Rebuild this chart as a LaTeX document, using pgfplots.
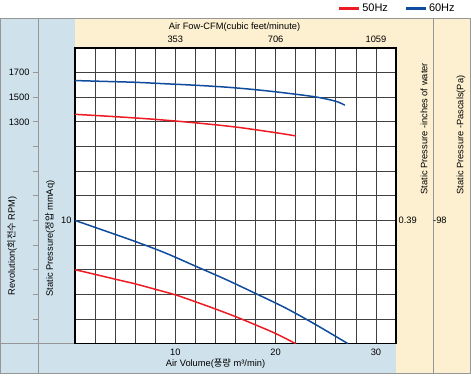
\documentclass[border=0pt]{standalone}
\usepackage{fontspec}
\setmainfont{Liberation Sans}
\newfontfamily\krfont{Noto Sans CJK KR}
\usepackage{pgfplots}
\pgfplotsset{compat=1.18}
\definecolor{bandblue}{RGB}{207,226,236}
\definecolor{bandbeige}{RGB}{253,240,208}
\definecolor{hzred}{RGB}{237,28,36}
\definecolor{hzblue}{RGB}{16,76,158}
\definecolor{rulegray}{RGB}{150,150,150}
\newcommand\lbl{\fontsize{9.3}{11}\selectfont}
\begin{document}
\begin{tikzpicture}[x=1pt,y=1pt,font=\lbl]
\path (0,0) rectangle (471,374);
\fill[bandblue] (0,357) -- (75,357) -- (75,32) -- (396,32) -- (396,2.5) -- (0,2.5) -- cycle;
\fill[bandbeige] (75,357) -- (470.5,357) -- (470.5,2.5) -- (396,2.5) -- (396,327.7) -- (75,327.7) -- cycle;
\draw[rulegray, line width=0.8pt] (0.5,2.5) rectangle (470.5,357);
\draw[rulegray, line width=0.8pt] (38,2.5) -- (38,357);
\draw[rulegray, line width=0.8pt] (433,2.5) -- (433,357);
\draw[rulegray, line width=0.8pt] (0.5,32) -- (75,32);

% main axis: static pressure vs air volume
\begin{axis}[at={(75pt,32pt)}, anchor=south west, width=321pt, height=295.7pt, scale only axis,
  xmin=0, xmax=32, ymin=0, ymax=24,
  axis background/.style={fill=white},
  xtick={10,20,30}, minor xtick={0,2,...,32},
  ytick={10}, minor ytick={0,2,...,24},
  grid=both,
  major grid style={black!75, line width=0.7pt},
  minor grid style={black!75, line width=0.7pt},
  major tick length=0pt, minor tick length=0pt,
  axis line style={black, line width=1.2pt},
  /pgf/number format/assume math mode=true,
  tick label style={font=\lbl},
  xticklabel style={yshift=-2.3pt},
]
\addplot[hzred, line width=1.5pt, smooth] coordinates {(0,6.0) (2,5.62) (4,5.23) (6,4.85) (8,4.41) (10,3.96) (12,3.40) (14,2.81) (16,2.19) (18,1.52) (20,0.82) (22,0)};
\addplot[hzblue, line width=1.5pt, smooth] coordinates {(0,10.0) (3,9.15) (6,8.29) (9,7.36) (12,6.29) (15,5.22) (18,4.07) (21,2.89) (24,1.54) (27.2,0)};
\end{axis}

% RPM axis
\begin{axis}[at={(75pt,32pt)}, anchor=south west, width=321pt, height=295.7pt, scale only axis,
  xmin=0, xmax=32, ymin=-500, ymax=1900,
  axis x line=none, axis y line*=left, axis line style={draw=none},
  ytick={-300,-100,...,1700}, yticklabels={,,,,,,,,1300,1500,1700},
  tick align=outside, major tick length=5pt,
  ytick style={draw=rulegray, line width=0.8pt, xshift=-37pt},
  yticklabel style={xshift=-37pt, font=\lbl},
  legend columns=2,
  legend style={draw=none, fill=none, at={(1.199,1.133)}, anchor=east, font=\fontsize{11}{13}\selectfont,
    /tikz/every even column/.append style={column sep=14pt}},
  legend image code/.code={\draw[#1, line width=3pt] (0pt,0pt) -- (20pt,0pt);},
]
\addplot[hzred, line width=1.5pt, smooth] coordinates {(0,1361) (4,1342) (8,1320) (12,1292) (16,1258) (20,1212) (22,1186)};
\addlegendentry{50Hz}
\addplot[hzblue, line width=1.5pt, smooth] coordinates {(0,1635) (3,1628) (6,1621) (9,1609) (12,1597) (15,1582) (18,1561) (21,1534) (24,1502) (26,1467) (26.9,1435)};
\addlegendentry{60Hz}
\end{axis}

% CFM top axis
\begin{axis}[at={(75pt,32pt)}, anchor=south west, width=321pt, height=295.7pt, scale only axis,
  xmin=0, xmax=32, ymin=0, ymax=1,
  axis y line=none, axis x line*=top, axis line style={draw=none},
  xtick={10,20,30}, xticklabels={353,706,1059},
  major tick length=0pt,
  xticklabel style={yshift=1.6pt, font=\lbl},
]
\end{axis}

\node at (234.5,349) {Air Fow-CFM(cubic feet/minute)};
\node at (215.5,12.3) {Air Volume({\krfont 풍량} m³/min)};
\node[rotate=90, anchor=west, inner sep=0pt] at (12,80) {Revolution({\krfont 회전수} RPM)};
\node[rotate=90, anchor=west, inner sep=0pt] at (50,79) {Static Pressure({\krfont 정압} mmAq)};
\node[rotate=90, anchor=west, inner sep=0pt] at (424,181) {Static Pressure -inches of water};
\node[rotate=90, anchor=west, inner sep=0pt] at (461,181) {Static Pressure -Pascals(Pa)};
\node[anchor=west, inner sep=0pt] at (398.5,155.2) {0.39};
\node[anchor=west, inner sep=0pt] at (433,155.2) {-98};
\end{tikzpicture}
\end{document}
